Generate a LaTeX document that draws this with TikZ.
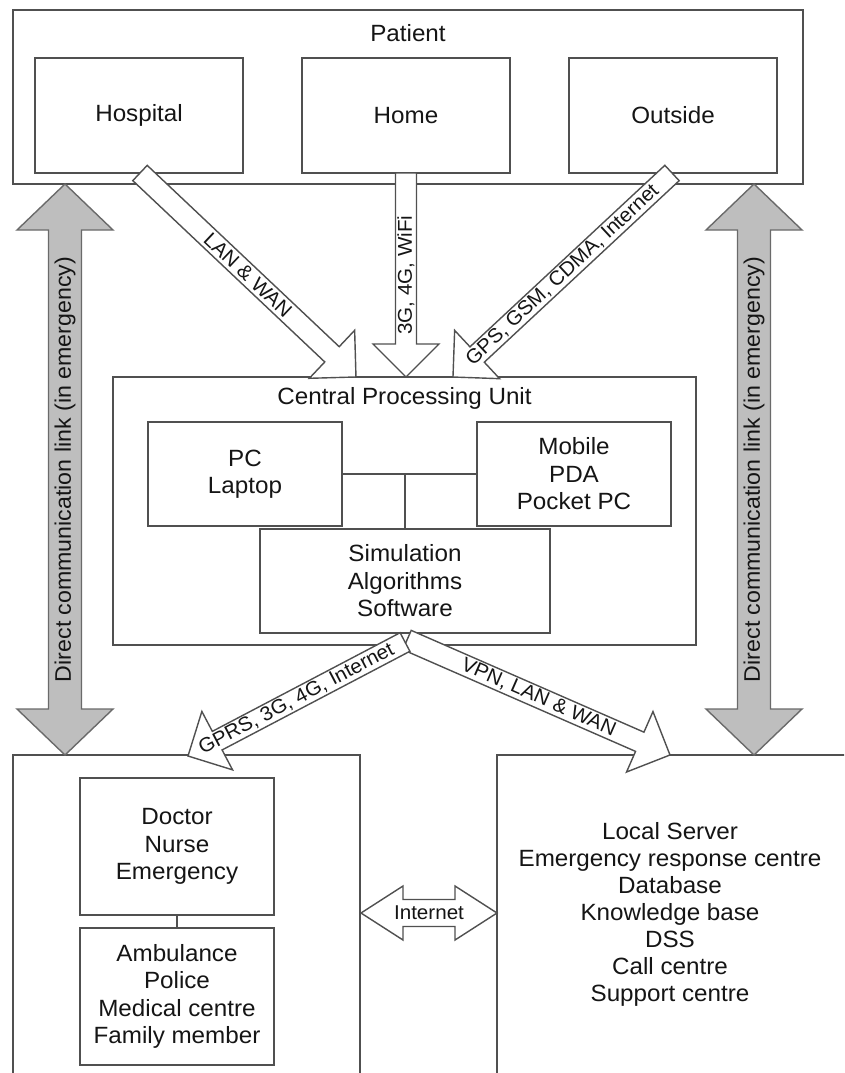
\documentclass[tikz,border=0pt]{standalone}
\usepackage{fontspec}
\setmainfont{Liberation Sans}[FakeStretch=1.03]
\usetikzlibrary{calc}
\definecolor{linec}{HTML}{505050}
\definecolor{grayfill}{HTML}{BEBEBE}
\definecolor{grayedge}{HTML}{6A6A6A}
\definecolor{txt}{HTML}{151515}
% single block arrow: style, tail, tip, shaft half width, head half width, head length
\newcommand\blkarrow[6]{%
  \draw[#1] let \p1=(#2), \p2=(#3), \n1={atan2(\y2-\y1,\x2-\x1)}, \n2={veclen(\x2-\x1,\y2-\y1)} in
  [shift={(\p1)}, rotate=\n1]
  (0,-#4) -- ({\n2-#6},-#4) -- ({\n2-#6},-#5) -- (\n2,0) -- ({\n2-#6},#5) -- ({\n2-#6},#4) -- (0,#4) -- cycle;}
% double block arrow
\newcommand\dblarrow[6]{%
  \draw[#1] let \p1=(#2), \p2=(#3), \n1={atan2(\y2-\y1,\x2-\x1)}, \n2={veclen(\x2-\x1,\y2-\y1)} in
  [shift={(\p1)}, rotate=\n1]
  (0,0) -- (#6,#5) -- (#6,#4) -- ({\n2-#6},#4) -- ({\n2-#6},#5) -- (\n2,0) -- ({\n2-#6},-#5) -- ({\n2-#6},-#4) -- (#6,-#4) -- (#6,-#5) -- cycle;}
\begin{document}
\begin{tikzpicture}[x=1pt,y=1pt,
  box/.style={draw=linec, line width=1.5pt, fill=white, inner sep=0pt, align=center, text=txt, font=\fontsize{23.5}{27.5}\selectfont},
  txtnode/.style={inner sep=0pt, align=center, text=txt, font=\fontsize{23.5}{27}\selectfont},
  lbl/.style={inner sep=0pt, text=txt, font=\fontsize{20}{24}\selectfont},
  glbl/.style={inner sep=0pt, text=txt, font=\fontsize{22.5}{27}\selectfont},
  whitearr/.style={draw=linec, line width=1.4pt, fill=white, line join=miter},
  grayarr/.style={draw=grayedge, line width=1.4pt, fill=grayfill},
  conn/.style={draw=linec, line width=1.5pt}]
\useasboundingbox (0,0) rectangle (844,-1073);
\clip (0,0) rectangle (844,-1073);
\fill[white] (0,0) rectangle (844,-1073);

% Patient
\node[box, minimum width=790pt, minimum height=174pt] (patient) at (408,-97) {};
\node[txtnode] (patientlbl) at (408,-33) {Patient};
\node[box, minimum width=208pt, minimum height=115pt] (hospital) at (139,-115.5) {Hospital};
\node[box, minimum width=208pt, minimum height=115pt] (home) at (406,-115.5) {Home};
\node[box, minimum width=208pt, minimum height=115pt] (outside) at (673,-115.5) {Outside};

% CPU
\node[box, minimum width=583pt, minimum height=268pt] (cpu) at (404.5,-511) {};
\node[txtnode] (cpulbl) at (404.5,-398) {Central Processing Unit};
\node[box, minimum width=194pt, minimum height=104pt] (pc) at (245,-474) {PC\\Laptop};
\node[box, minimum width=194pt, minimum height=104pt] (mobile) at (574,-474) {Mobile\\PDA\\Pocket PC};
\node[box, minimum width=290pt, minimum height=104pt] (sim) at (405,-581) {Simulation\\Algorithms\\Software};
\draw[conn] (pc.east) -- (mobile.west);
\draw[conn] (sim.north) -- (sim.north |- pc.east);

% bottom boxes
\node[box, minimum width=347pt, minimum height=335pt] (leftbox) at (186.5,-922.5) {};
\node[box, minimum width=194pt, minimum height=137pt] (doctor) at (177,-846.5) {Doctor\\Nurse\\Emergency};
\node[box, minimum width=194pt, minimum height=137pt] (amb) at (177,-996.5) {Ambulance\\Police\\Medical centre\\Family member};
\draw[conn] (doctor.south) -- (amb.north);
\node[box, minimum width=363pt, minimum height=335pt] (rightbox) at (678.5,-922.5) {};
\node[txtnode] (rtext) at (670,-914) {Local Server\\Emergency response centre\\Database\\Knowledge base\\DSS\\Call centre\\Support centre};

% arrow end points
\coordinate (lanT) at (140,-173);
\coordinate (lanH) at (356,-377);
\coordinate (g3T) at (406,-173);
\coordinate (g3H) at (406,-377);
\coordinate (gpsT) at (672,-173);
\coordinate (gpsH) at (453,-377);
\coordinate (vpnT) at (407,-640);
\coordinate (vpnH) at (670,-755);
\coordinate (gprsT) at (405,-642);
\coordinate (gprsH) at (188,-756);
\coordinate (gL1) at (65,-184);
\coordinate (gL2) at (65,-755);
\coordinate (gR1) at (754,-184);
\coordinate (gR2) at (754,-755);
\coordinate (inL) at (361,-913);
\coordinate (inR) at (497,-913);

% white block arrows
\blkarrow{whitearr}{lanT}{lanH}{10.5}{33}{33}
\blkarrow{whitearr}{g3T}{g3H}{10.5}{33}{33}
\blkarrow{whitearr}{gpsT}{gpsH}{10.5}{33}{33}
\blkarrow{whitearr}{vpnT}{vpnH}{10.5}{33}{33}
\blkarrow{whitearr}{gprsT}{gprsH}{10.5}{33}{33}
\path (lanT) -- (lanH) node[midway, sloped, lbl] (lanlbl) {LAN \& WAN};
\path (g3H) -- (g3T) node[midway, sloped, lbl] (g3lbl) {3G, 4G, WiFi};
\path (gpsT) -- (gpsH) node[midway, sloped, lbl] (gpslbl) {GPS, GSM, CDMA, Internet};
\path (vpnT) -- (vpnH) node[midway, sloped, lbl] (vpnlbl) {VPN, LAN \& WAN};
\path (gprsT) -- (gprsH) node[midway, sloped, lbl] (gprslbl) {GPRS, 3G, 4G, Internet};

% gray double arrows
\dblarrow{grayarr}{gL1}{gL2}{16.5}{48}{46}
\dblarrow{grayarr}{gR1}{gR2}{16.5}{48}{46}
\path (gL2) -- (gL1) node[midway, sloped, glbl] (gLlbl) {Direct communication link (in emergency)};
\path (gR2) -- (gR1) node[midway, sloped, glbl] (gRlbl) {Direct communication link (in emergency)};

% Internet double arrow
\dblarrow{whitearr}{inL}{inR}{13.5}{27}{42}
\path (inL) -- (inR) node[midway, lbl] (inlbl) {Internet};
\end{tikzpicture}
\end{document}
